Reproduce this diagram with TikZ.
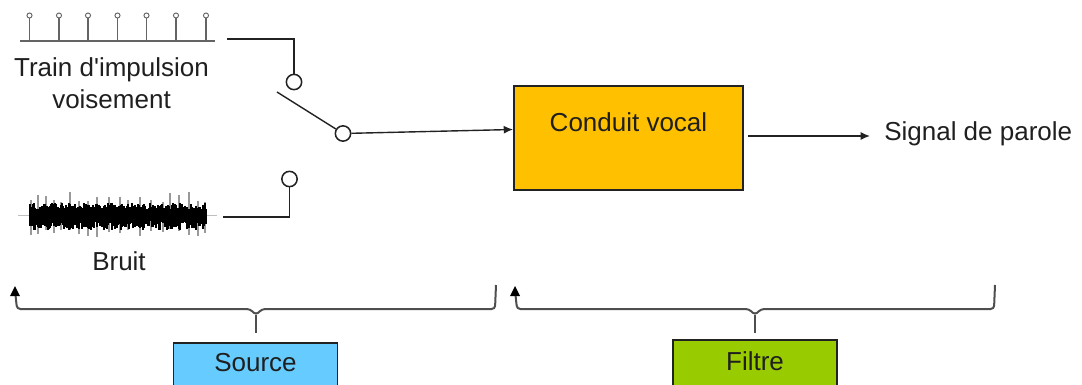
\documentclass[tikz,border=0pt]{standalone}
\usepackage{fontspec}
\newfontfamily\labelfont{Liberation Sans}
\usetikzlibrary{arrows.meta}
\definecolor{linecol}{HTML}{222222}
\definecolor{srcblue}{HTML}{66CCFF}
\definecolor{filgreen}{HTML}{99CC00}
\definecolor{convorange}{HTML}{FFC000}
\tikzset{
  wire/.style={draw=linecol,line width=1.05pt},
  thinwire/.style={draw=linecol!70,line width=0.9pt},
  contact/.style={circle,draw=linecol,line width=1.15pt,fill=white,minimum size=11.5pt,inner sep=0pt},
  tinycontact/.style={circle,draw=linecol!70,line width=0.7pt,fill=white,minimum size=3.8pt,inner sep=0pt},
  fblock/.style={rectangle,draw=linecol,line width=1.1pt,inner sep=0pt},
  lbl/.style={font=\labelfont\fontsize{19.5pt}{24pt}\selectfont,text=black!88,inner sep=0pt,align=center},
  arr/.style={wire,-{Latex[length=7pt,width=6pt]}},
  bracepath/.style={draw=linecol!80,line width=1.5pt,rounded corners=2.5pt}
}
\begin{document}
\begin{tikzpicture}[x=0.75pt,y=-0.75pt]
\useasboundingbox (0,0) rectangle (1082,385);
% pulse train
\coordinate (axl) at (20,41);
\coordinate (axr) at (215,41);
\draw[thinwire] (axl) -- (axr);
\foreach \n/\x in {a/29.5,b/59,c/88,d/117.5,e/146.5,f/176,g/206}{
  \node[tinycontact] (p\n) at (\x,15.5) {};
  \coordinate (q\n) at (\x,41);
  \draw[thinwire] (p\n) -- (q\n);
}
\node[lbl] (train) at (111.5,83) {Train d'impulsion\\voisement};
% noise
\coordinate (nl) at (18,215);
\coordinate (nr) at (217,215);
\draw[draw=black!25,line width=0.6pt] (nl) -- (nr);
\pgfmathsetseed{73}
\foreach \i in {31,38,46,54,61,70,79,88,97,109,120,128,140,151,163,170,179,189,198,205}{
  \pgfmathsetmacro{\up}{190+12*rnd}
  \pgfmathsetmacro{\dn}{229+8*rnd}
  \draw[black!40,line width=0.8pt] (\i,\up) -- (\i,\dn);
}
\foreach \i in {30,31,...,206}{
  \pgfmathsetmacro{\up}{203+7*rnd}
  \pgfmathsetmacro{\dn}{221+9*rnd}
  \draw[black,line width=1pt] (\i,\up) -- (\i,\dn);
}
\node[lbl] (bruit) at (119,261) {Bruit};
% switch
\node[contact] (ctop) at (294,82) {};
\node[contact] (cmid) at (343,133.5) {};
\node[contact] (cbot) at (289.5,179) {};
\coordinate (swfree) at (277,92);
\coordinate (t0) at (227,39);
\coordinate (b0) at (223,217);
\draw[wire] (t0) -| (ctop);
\draw[wire] (b0) -| (cbot);
\draw[wire] (swfree) -- (cmid);
% filter block
\node[fblock,fill=convorange,minimum width=172pt,minimum height=78pt,lbl] (conduit) at (628.5,138) {\smash{\raisebox{5.2pt}{Conduit vocal}}};
\draw[arr] (cmid) -- (conduit.west |- 0,129.5);
\coordinate (s0) at (748,136);
\node[lbl,anchor=west] (signal) at (884,134) {Signal de parole};
\draw[arr] (s0) -- (870,136) coordinate (s1);
% braces
\coordinate (ba1) at (15,286);
\coordinate (ba2) at (496,285);
\coordinate (bat) at (256,333);
\draw[bracepath] (ba2) -- (495,309) -- (262,309) -- (256,315) -- (250,309) -- (17,309) -- (15.5,295);
\draw[bracepath,rounded corners=0pt] (256,315) -- (bat);
\fill[black] (ba1) -- (10,296) -- (20,296) -- cycle;
\coordinate (bb1) at (515,286);
\coordinate (bb2) at (995,285);
\coordinate (bbt) at (755,333);
\draw[bracepath] (bb2) -- (994,309) -- (761,309) -- (755,315) -- (749,309) -- (517,309) -- (515.5,295);
\draw[bracepath,rounded corners=0pt] (755,315) -- (bbt);
\fill[black] (bb1) -- (510,296) -- (520,296) -- cycle;
% labels
\node[fblock,fill=srcblue,minimum width=123pt,minimum height=33pt,lbl] (source) at (255.5,365) {\smash{\raisebox{-4.5pt}{Source}}};
\node[fblock,fill=filgreen,minimum width=123pt,minimum height=35pt,lbl] (filtre) at (755,363.5) {\smash{\raisebox{-5.6pt}{Filtre}}};
\end{tikzpicture}
\end{document}
